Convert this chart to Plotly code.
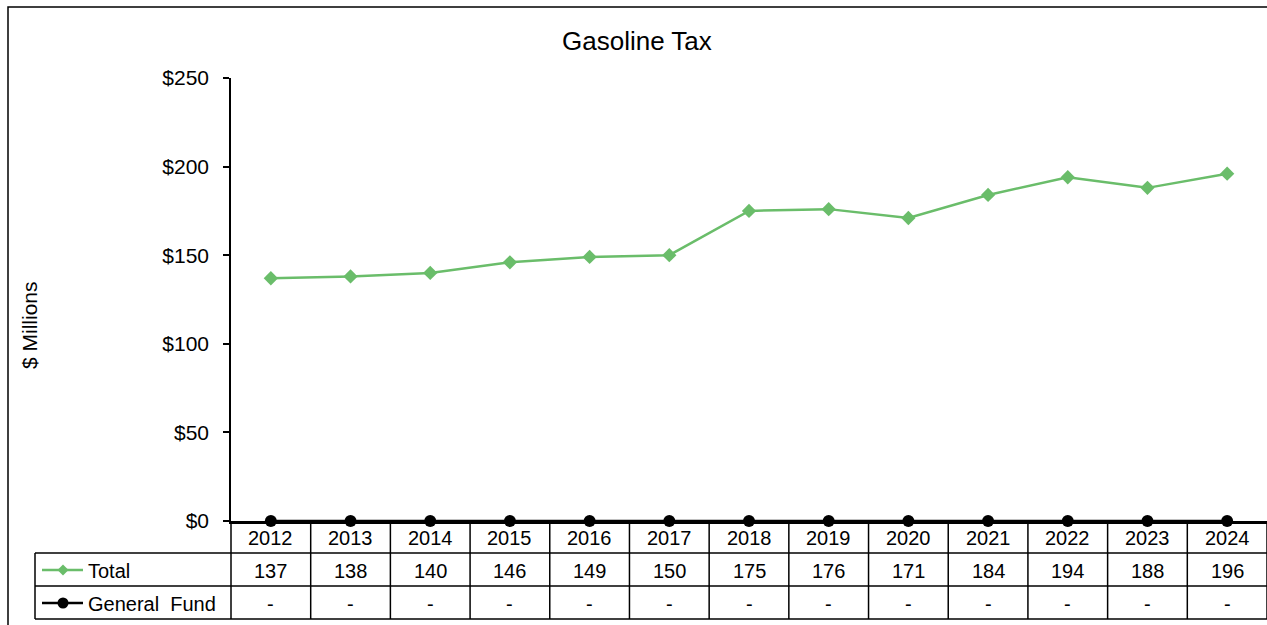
import plotly.graph_objects as go

years = ["2012", "2013", "2014", "2015", "2016", "2017", "2018", "2019", "2020", "2021", "2022", "2023", "2024"]
total = [137, 138, 140, 146, 149, 150, 175, 176, 171, 184, 194, 188, 196]
general_fund = [0, 0, 0, 0, 0, 0, 0, 0, 0, 0, 0, 0, 0]
general_fund_labels = ["-"] * 13
y_ticks = [0, 50, 100, 150, 200, 250]
y_tick_text = ["$0", "$50", "$100", "$150", "$200", "$250"]

W, H = 1267, 625
ML, MR, MT, MB = 231, 0, 78, 104
PW = W - ML - MR
PH = H - MT - MB
GREEN = "#6ABD6A"
FONT = "Liberation Sans, Arial, sans-serif"
FS = 20

def px(x):
    return (x - ML) / PW

def py(y):
    return (H - MB - y) / PH

n = len(years)
xs = list(range(n))
xr = [-0.5, n - 0.5]

def xb(v):
    return (v - xr[0]) / (xr[1] - xr[0])

fig = go.Figure()
fig.add_trace(go.Scatter(x=xs, y=total, mode="lines+markers", name="Total",
                         line=dict(color=GREEN, width=2.5),
                         marker=dict(symbol="diamond", size=11, color=GREEN),
                         cliponaxis=False, showlegend=False))
fig.add_trace(go.Scatter(x=xs, y=general_fund, mode="lines+markers", name="General Fund",
                         line=dict(color="black", width=2.5),
                         marker=dict(symbol="circle", size=12, color="black"),
                         cliponaxis=False, showlegend=False))

shapes = []
LW = 1.5
# outer border
shapes.append(dict(type="rect", xref="paper", yref="paper", x0=px(8), x1=px(1290), y0=py(7), y1=py(660),
                   line=dict(color="black", width=1.5), layer="below"))
# table horizontal lines
for yy in [553, 586, 619]:
    shapes.append(dict(type="line", xref="paper", yref="paper", x0=px(35), x1=xb(xr[1]) + 0.002,
                       y0=py(yy), y1=py(yy), line=dict(color="black", width=LW)))
# left border of label column
shapes.append(dict(type="line", xref="paper", yref="paper", x0=px(35), x1=px(35),
                   y0=py(553), y1=py(619), line=dict(color="black", width=LW)))
# vertical category boundaries
for i in range(n + 1):
    xv = xb(i - 0.5)
    shapes.append(dict(type="line", xref="paper", yref="paper", x0=xv, x1=xv,
                       y0=py(521), y1=py(619), line=dict(color="black", width=LW)))

# legend keys in table
def key(yc, color, symbol):
    shapes.append(dict(type="line", xref="paper", yref="paper", x0=px(42), x1=px(83),
                       y0=py(yc), y1=py(yc), line=dict(color=color, width=2.5)))
    cx, cy = 63, yc
    r = 5.5
    if symbol == "diamond":
        path = "M {a},{b} L {c},{d} L {e},{f} L {g},{h} Z".format(
            a=px(cx - r), b=py(cy), c=px(cx), d=py(cy - r), e=px(cx + r), f=py(cy), g=px(cx), h=py(cy + r))
        shapes.append(dict(type="path", xref="paper", yref="paper", path=path,
                           fillcolor=color, line=dict(color=color, width=0)))
    else:
        shapes.append(dict(type="circle", xref="paper", yref="paper", x0=px(cx - r), x1=px(cx + r),
                           y0=py(cy - r), y1=py(cy + r), fillcolor=color, line=dict(color=color, width=0)))

key(570, GREEN, "diamond")
key(603, "black", "circle")

annotations = []
tf = dict(family=FONT, size=FS, color="black")
for i, yr in enumerate(years):
    annotations.append(dict(x=xb(i), y=py(538), xref="paper", yref="paper", text=yr, showarrow=False,
                            font=tf, xanchor="center", yanchor="middle"))
    annotations.append(dict(x=xb(i), y=py(571), xref="paper", yref="paper", text=str(total[i]), showarrow=False,
                            font=tf, xanchor="center", yanchor="middle"))
    annotations.append(dict(x=xb(i), y=py(604), xref="paper", yref="paper", text=general_fund_labels[i],
                            showarrow=False, font=tf, xanchor="center", yanchor="middle"))
annotations.append(dict(x=px(86), y=py(571), xref="paper", yref="paper", text="Total", showarrow=False,
                        font=tf, xanchor="left", yanchor="middle"))
annotations.append(dict(x=px(86), y=py(604), xref="paper", yref="paper", text="General  Fund", showarrow=False,
                        font=tf, xanchor="left", yanchor="middle"))
annotations.append(dict(x=px(637), y=py(41), xref="paper", yref="paper", text="Gasoline Tax", showarrow=False,
                        font=dict(family=FONT, size=26, color="black"), xanchor="center", yanchor="middle"))
annotations.append(dict(x=px(29), y=py(325), xref="paper", yref="paper", text="$ Millions", showarrow=False,
                        textangle=-90, font=dict(family=FONT, size=21, color="black"),
                        xanchor="center", yanchor="middle"))

fig.update_layout(
    width=W, height=H,
    margin=dict(l=ML, r=MR, t=MT, b=MB, pad=0),
    paper_bgcolor="white", plot_bgcolor="white",
    showlegend=False,
    shapes=shapes, annotations=annotations,
    font=dict(family=FONT, color="black"),
    xaxis=dict(range=xr, showticklabels=False, showgrid=False, zeroline=False,
               showline=True, linecolor="black", linewidth=2.5, ticks=""),
    yaxis=dict(range=[0, 250], tickvals=y_ticks, ticktext=y_tick_text, showgrid=False, zeroline=False,
               showline=True, linecolor="black", linewidth=1.5, ticks="outside", ticklen=6,
               tickcolor="black", tickwidth=1.5, ticklabelstandoff=10,
               tickfont=dict(family=FONT, size=21, color="black")),
)
fig.write_html("out.html", config={"displayModeBar": False},
               post_script="document.body.style.margin='0';document.body.style.overflow='hidden';")
